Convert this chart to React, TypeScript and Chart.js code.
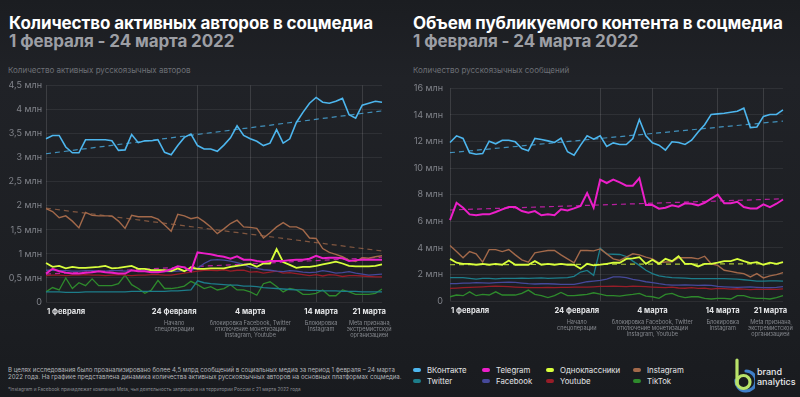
import React, { useEffect, useRef } from 'react';
import { Chart, registerables } from 'chart.js';

Chart.register(...registerables);

const FONT = 'Inter, "Noto Sans", sans-serif';

// ---------- data ----------
const DAYS = [
  '01.02', '02.02', '03.02', '04.02', '05.02', '06.02', '07.02', '08.02', '09.02', '10.02',
  '11.02', '12.02', '13.02', '14.02', '15.02', '16.02', '17.02', '18.02', '19.02', '20.02',
  '21.02', '22.02', '23.02', '24.02', '25.02', '26.02', '27.02', '28.02', '01.03', '02.03',
  '03.03', '04.03', '05.03', '06.03', '07.03', '08.03', '09.03', '10.03', '11.03', '12.03',
  '13.03', '14.03', '15.03', '16.03', '17.03', '18.03', '19.03', '20.03', '21.03', '22.03',
  '23.03', '24.03',
];

const MARKER_INDEX = [0, 23, 31, 41, 48];
const MARKER_LABELS = ['1 февраля', '24 февраля', '4 марта', '14 марта', '21 марта'];
const MARKER_NOTES = [
  [],
  ['Начало', 'спецоперации'],
  ['блокировка Facebook, Twitter', 'отключение монетизации', 'Instagram, Youtube'],
  ['Блокировка', 'Instagram'],
  ['Meta признана', 'экстремистской', 'организацией'],
];

const LEFT_TICKS = [0, 0.5, 1, 1.5, 2, 2.5, 3, 3.5, 4, 4.5];
const RIGHT_TICKS = [0, 2, 4, 6, 8, 10, 12, 14, 16];

// Authors (millions)
const A_VK = [3.39, 3.46, 3.46, 3.22, 3.10, 3.10, 3.37, 3.37, 3.37, 3.37, 3.35, 3.15, 3.16, 3.48, 3.31, 3.35, 3.35, 3.37, 3.11, 3.06, 3.25, 3.42, 3.49, 3.25, 3.18, 3.18, 3.13, 3.26, 3.41, 3.66, 3.46, 3.39, 3.34, 3.25, 3.30, 3.58, 3.30, 3.39, 3.73, 3.94, 4.13, 4.25, 4.15, 4.13, 4.17, 4.23, 3.89, 3.82, 4.09, 4.13, 4.17, 4.15];
const A_TELEGRAM = [0.59, 0.69, 0.64, 0.61, 0.59, 0.59, 0.61, 0.62, 0.64, 0.62, 0.61, 0.59, 0.59, 0.66, 0.64, 0.64, 0.62, 0.62, 0.64, 0.68, 0.74, 0.72, 0.64, 1.03, 1.01, 0.99, 0.96, 0.94, 0.90, 0.95, 0.88, 0.88, 0.85, 0.83, 0.85, 0.85, 0.85, 0.87, 0.88, 0.88, 0.90, 0.96, 0.91, 0.92, 0.92, 0.91, 0.85, 0.87, 0.88, 0.88, 0.88, 0.88];
const A_OK = [0.81, 0.73, 0.75, 0.70, 0.73, 0.71, 0.71, 0.72, 0.73, 0.75, 0.70, 0.71, 0.73, 0.75, 0.69, 0.69, 0.66, 0.66, 0.66, 0.64, 0.70, 0.64, 0.72, 0.69, 0.69, 0.70, 0.70, 0.70, 0.73, 0.75, 0.77, 0.79, 0.73, 0.80, 0.80, 1.10, 0.83, 0.77, 0.71, 0.73, 0.73, 0.75, 0.78, 0.81, 0.84, 0.80, 0.75, 0.74, 0.74, 0.74, 0.75, 0.78];
const A_INSTAGRAM = [1.94, 1.88, 1.75, 1.79, 1.68, 1.54, 1.86, 1.80, 1.79, 1.79, 1.79, 1.68, 1.53, 1.80, 1.77, 1.77, 1.77, 1.72, 1.60, 1.47, 1.82, 1.79, 1.73, 1.76, 1.67, 1.56, 1.42, 1.52, 1.63, 1.70, 1.56, 1.55, 1.53, 1.33, 1.44, 1.56, 1.65, 1.56, 1.56, 1.50, 1.33, 1.32, 1.11, 1.03, 0.99, 0.94, 0.87, 0.84, 0.92, 0.91, 0.94, 0.96];
const A_TWITTER = [0.21, 0.21, 0.21, 0.20, 0.20, 0.20, 0.21, 0.21, 0.21, 0.21, 0.21, 0.21, 0.21, 0.22, 0.22, 0.22, 0.22, 0.22, 0.22, 0.23, 0.23, 0.24, 0.25, 0.44, 0.40, 0.38, 0.37, 0.36, 0.35, 0.35, 0.33, 0.33, 0.32, 0.30, 0.29, 0.28, 0.27, 0.26, 0.25, 0.25, 0.24, 0.24, 0.23, 0.23, 0.23, 0.22, 0.22, 0.22, 0.21, 0.21, 0.21, 0.21];
const A_FACEBOOK = [0.66, 0.66, 0.65, 0.65, 0.64, 0.64, 0.65, 0.65, 0.64, 0.64, 0.65, 0.65, 0.64, 0.65, 0.65, 0.64, 0.64, 0.63, 0.63, 0.63, 0.64, 0.65, 0.66, 0.70, 0.80, 0.87, 0.88, 0.87, 0.85, 0.82, 0.78, 0.72, 0.70, 0.67, 0.66, 0.64, 0.63, 0.65, 0.64, 0.62, 0.61, 0.62, 0.65, 0.63, 0.60, 0.61, 0.63, 0.60, 0.58, 0.56, 0.57, 0.58];
const A_YOUTUBE = [0.55, 0.56, 0.56, 0.55, 0.56, 0.56, 0.57, 0.56, 0.56, 0.55, 0.56, 0.57, 0.56, 0.55, 0.56, 0.56, 0.57, 0.57, 0.56, 0.56, 0.58, 0.60, 0.62, 0.64, 0.66, 0.66, 0.65, 0.67, 0.64, 0.66, 0.66, 0.62, 0.63, 0.60, 0.62, 0.64, 0.60, 0.61, 0.59, 0.57, 0.55, 0.57, 0.54, 0.57, 0.56, 0.53, 0.55, 0.55, 0.54, 0.53, 0.52, 0.52];
const A_TIKTOK = [0.21, 0.30, 0.25, 0.50, 0.28, 0.40, 0.34, 0.48, 0.34, 0.34, 0.34, 0.38, 0.56, 0.36, 0.28, 0.18, 0.25, 0.45, 0.28, 0.28, 0.30, 0.33, 0.43, 0.36, 0.28, 0.32, 0.25, 0.28, 0.36, 0.25, 0.25, 0.21, 0.14, 0.38, 0.42, 0.32, 0.21, 0.28, 0.25, 0.16, 0.16, 0.18, 0.25, 0.13, 0.13, 0.25, 0.21, 0.16, 0.16, 0.16, 0.18, 0.27];

// Trend lines (first day, last day)
const A_TREND_VK = [3.08, 3.97];
const A_TREND_INSTAGRAM = [1.95, 1.06];
const A_TREND_TELEGRAM = [0.58, 0.93];

// Messages (millions)
const M_VK = [11.93, 12.43, 12.23, 11.16, 11.04, 11.10, 12.03, 11.83, 12.10, 12.10, 11.98, 11.48, 11.30, 12.23, 12.15, 12.05, 11.93, 12.25, 11.23, 10.98, 11.73, 12.43, 12.18, 12.43, 11.63, 11.90, 11.78, 11.78, 12.23, 13.66, 12.43, 11.90, 11.73, 11.36, 11.98, 11.93, 11.78, 12.10, 12.72, 13.27, 14.04, 14.08, 14.13, 14.20, 14.28, 14.51, 13.05, 13.10, 13.89, 14.04, 14.04, 14.38];
const M_TELEGRAM = [6.08, 7.39, 7.02, 6.52, 6.45, 6.52, 6.52, 6.70, 6.90, 7.07, 7.07, 6.77, 6.65, 6.77, 6.45, 6.52, 6.45, 6.90, 6.82, 6.97, 7.15, 8.13, 7.02, 9.13, 8.88, 9.13, 8.93, 8.68, 8.68, 9.25, 7.22, 7.22, 6.95, 7.02, 7.20, 7.10, 7.35, 7.32, 7.20, 7.39, 7.71, 8.01, 7.35, 7.35, 7.47, 7.07, 6.97, 6.97, 7.27, 7.07, 7.32, 7.64];
const M_OK = [3.17, 2.88, 2.80, 2.80, 2.73, 2.80, 2.73, 2.80, 2.73, 3.05, 2.73, 2.73, 2.73, 3.00, 2.73, 2.80, 2.73, 2.80, 2.73, 2.73, 2.43, 2.80, 2.68, 2.73, 2.80, 2.88, 2.88, 3.17, 3.20, 3.30, 2.80, 3.10, 2.80, 3.17, 3.00, 3.37, 2.80, 2.80, 2.60, 2.80, 2.80, 2.88, 3.00, 3.00, 3.17, 3.00, 2.85, 2.93, 2.73, 2.88, 2.80, 2.93];
const M_INSTAGRAM = [4.17, 3.72, 3.25, 3.72, 3.55, 2.93, 3.87, 3.87, 3.72, 3.87, 3.47, 3.10, 2.93, 3.62, 3.72, 3.80, 3.80, 3.47, 3.17, 2.88, 3.80, 3.80, 3.77, 3.92, 3.55, 3.17, 3.05, 3.30, 3.55, 3.47, 3.30, 3.17, 2.88, 2.93, 2.95, 3.25, 3.25, 3.25, 3.17, 3.37, 2.80, 2.68, 2.31, 2.23, 2.13, 2.06, 1.81, 2.06, 1.74, 1.89, 1.98, 2.13];
const M_TWITTER = [1.76, 1.76, 1.76, 1.70, 1.64, 1.70, 1.70, 1.66, 1.70, 1.70, 1.70, 1.72, 1.70, 1.72, 1.74, 1.70, 1.72, 1.74, 1.76, 1.86, 2.18, 2.30, 1.93, 3.97, 3.55, 3.52, 3.50, 3.35, 3.00, 2.68, 2.31, 2.06, 1.89, 1.81, 1.76, 1.74, 1.72, 1.69, 1.69, 1.69, 1.69, 1.69, 1.69, 1.66, 1.64, 1.60, 1.56, 1.49, 1.49, 1.51, 1.51, 1.49];
const M_FACEBOOK = [1.31, 1.31, 1.35, 1.35, 1.38, 1.36, 1.34, 1.38, 1.40, 1.42, 1.40, 1.35, 1.30, 1.28, 1.30, 1.30, 1.28, 1.25, 1.25, 1.25, 1.35, 1.45, 1.50, 1.55, 1.65, 1.81, 1.81, 1.76, 1.62, 1.55, 1.45, 1.39, 1.30, 1.24, 1.20, 1.20, 1.22, 1.20, 1.18, 1.20, 1.17, 1.10, 1.07, 1.05, 1.02, 1.04, 1.06, 1.03, 1.00, 1.00, 1.02, 1.08];
const M_YOUTUBE = [0.95, 0.97, 1.00, 1.02, 1.05, 1.07, 1.10, 1.12, 1.10, 1.08, 1.05, 1.03, 1.00, 1.00, 1.00, 1.02, 1.00, 1.02, 1.02, 1.04, 1.05, 1.05, 1.07, 1.10, 1.10, 1.12, 1.10, 1.08, 1.12, 1.10, 1.08, 1.05, 1.02, 1.00, 1.04, 0.98, 0.96, 1.00, 0.95, 0.97, 0.90, 0.95, 0.93, 0.90, 0.92, 0.90, 0.85, 0.90, 0.88, 0.90, 0.88, 0.92];
const M_TIKTOK = [0.32, 0.45, 0.40, 0.69, 0.40, 0.50, 0.45, 0.69, 0.45, 0.45, 0.45, 0.57, 0.82, 0.50, 0.40, 0.25, 0.40, 0.65, 0.40, 0.40, 0.45, 0.50, 0.62, 0.52, 0.40, 0.40, 0.37, 0.45, 0.50, 0.57, 0.37, 0.32, 0.20, 0.50, 0.57, 0.37, 0.25, 0.32, 0.32, 0.20, 0.15, 0.20, 0.20, 0.15, 0.40, 0.40, 0.25, 0.20, 0.20, 0.15, 0.25, 0.40];

const M_TREND_VK = [11.16, 13.54];
const M_TREND_TELEGRAM = [6.85, 7.69];
const M_TREND_OK = [2.73, 2.80];

const SERIES_NAMES = ['ВКонтакте', 'Telegram', 'Одноклассники', 'Instagram', 'Twitter', 'Facebook', 'Youtube', 'TikTok'];
const COLORS: Record<string, string> = {
  'ВКонтакте': '#4db6ee',
  'Telegram': '#ec1fc9',
  'Одноклассники': '#d9ff3c',
  'Instagram': '#a3694a',
  'Twitter': '#1d7d8a',
  'Facebook': '#46499a',
  'Youtube': '#981d28',
  'TikTok': '#2e8a2c',
};
const WIDTHS: Record<string, number> = {
  'ВКонтакте': 1.6, 'Telegram': 2, 'Одноклассники': 1.8, 'Instagram': 1.4,
  'Twitter': 1.3, 'Facebook': 1.3, 'Youtube': 1.3, 'TikTok': 1.3,
};
const LEGEND_ORDER = ['ВКонтакте', 'Telegram', 'Одноклассники', 'Instagram', 'Twitter', 'Facebook', 'Youtube', 'TikTok'];

// ---------- helpers ----------
function trendData(t: number[]) {
  return DAYS.map((_, i) => (i === 0 ? t[0] : i === DAYS.length - 1 ? t[1] : null));
}

function hexA(hex: string, a: number) {
  const n = parseInt(hex.slice(1), 16);
  return `rgba(${(n >> 16) & 255},${(n >> 8) & 255},${n & 255},${a})`;
}

const MARKER_ALIGN = ['left', 'right', 'center', 'center', 'center'];
const MARKER_DX = [1, -1, 0, 5, 7];

const markerPlugin = {
  id: 'markers',
  afterDraw(chart: any) {
    const { ctx, chartArea } = chart;
    const xs = chart.scales.x;
    ctx.save();
    ctx.textAlign = 'center';
    ctx.textBaseline = 'middle';
    MARKER_INDEX.forEach((idx, k) => {
      const gx = xs.getPixelForValue(idx);
      ctx.font = `700 7.6px ${FONT}`;
      const label = MARKER_LABELS[k];
      const w = ctx.measureText(label).width;
      let cx = gx + MARKER_DX[k];
      if (MARKER_ALIGN[k] === 'left') cx = gx + w / 2 + MARKER_DX[k];
      if (MARKER_ALIGN[k] === 'right') cx = gx - w / 2 + MARKER_DX[k];
      ctx.fillStyle = '#e4e5e7';
      ctx.fillText(label, cx, chartArea.bottom + 10);
      ctx.font = `400 5.6px ${FONT}`;
      ctx.fillStyle = '#85888e';
      MARKER_NOTES[k].forEach((t, j) => ctx.fillText(t, cx, chartArea.bottom + 21 + j * 6.3));
    });
    ctx.restore();
  },
};

function makeConfig(series: number[][], trends: [string, number[]][], ticks: number[], yWidth: number, tickPad: number, padRight: number, padTop: number, padBottom: number) {
  const datasets: any[] = [];
  SERIES_NAMES.forEach((name, i) => {
    datasets.push({
      label: name,
      data: series[i],
      borderColor: COLORS[name],
      backgroundColor: COLORS[name],
      borderWidth: WIDTHS[name],
      pointRadius: 0,
      tension: 0,
      fill: false,
      order: i + 1,
    });
  });
  trends.forEach(([name, t]) => {
    datasets.push({
      label: name + ' тренд',
      data: trendData(t),
      borderColor: hexA(COLORS[name], 0.75),
      borderWidth: 1.2,
      borderDash: [5, 4],
      pointRadius: 0,
      spanGaps: true,
      fill: false,
      order: 20,
    });
  });
  return {
    type: 'line',
    data: { labels: DAYS, datasets },
    options: {
      responsive: false,
      animation: false,
      events: [],
      layout: { padding: { left: 0, right: padRight, top: padTop, bottom: padBottom } },
      plugins: { legend: { display: false }, tooltip: { enabled: false }, title: { display: false } },
      scales: {
        x: {
          type: 'category',
          offset: false,
          ticks: { display: false },
          border: { display: false },
          grid: {
            drawTicks: false,
            lineWidth: 1,
            color: (c: any) => (MARKER_INDEX.includes(c.index) ? 'rgba(255,255,255,0.13)' : 'rgba(0,0,0,0)'),
          },
        },
        y: {
          min: ticks[0],
          max: ticks[ticks.length - 1],
          afterBuildTicks: (s: any) => { s.ticks = ticks.map((v) => ({ value: v })); },
          afterFit: (s: any) => { s.width = yWidth; },
          border: { display: false },
          grid: { color: 'rgba(255,255,255,0.07)', drawTicks: false },
          ticks: {
            padding: tickPad,
            color: '#80838a',
            font: { family: FONT, size: 9 },
            callback: (v: number) => (v === 0 ? '0' : String(v).replace('.', ',') + ' млн'),
          },
        },
      },
    },
    plugins: [markerPlugin],
  };
}

function LineChart({ config, style }: { config: any; style: React.CSSProperties }) {
  const ref = useRef<HTMLCanvasElement>(null);
  useEffect(() => {
    const chart = new Chart(ref.current as HTMLCanvasElement, config);
    return () => chart.destroy();
  }, []);
  return <canvas ref={ref} width={400} height={272} style={{ position: 'absolute', width: 400, height: 272, ...style }} />;
}

const titleStyle: React.CSSProperties = {
  position: 'absolute', fontFamily: FONT, fontWeight: 700, fontSize: 17, lineHeight: '17px',
  color: '#ffffff', whiteSpace: 'nowrap', letterSpacing: -0.1,
};
const subStyle: React.CSSProperties = { ...titleStyle, color: '#9c9ea4' };
const capStyle: React.CSSProperties = {
  position: 'absolute', fontFamily: FONT, fontSize: 8, lineHeight: '8px', color: '#6d7076', whiteSpace: 'nowrap',
};

function Logo() {
  return (
    <svg width="24" height="38" viewBox="0 0 24 38" style={{ position: 'absolute', left: 731, top: 358 }}>
      <path d="M 5 22 A 10 10 0 1 0 15 13" fill="none" stroke="#3f7fc8" strokeWidth="3.2" strokeLinecap="round" />
      <line x1="6" y1="2" x2="6" y2="26" stroke="#b9e36a" strokeWidth="3.2" strokeLinecap="round" />
      <circle cx="12.5" cy="24" r="6.5" fill="none" stroke="#b9e36a" strokeWidth="3.2" />
    </svg>
  );
}

export default function App() {
  const leftCfg = makeConfig(
    [A_VK, A_TELEGRAM, A_OK, A_INSTAGRAM, A_TWITTER, A_FACEBOOK, A_YOUTUBE, A_TIKTOK],
    [['ВКонтакте', A_TREND_VK], ['Instagram', A_TREND_INSTAGRAM], ['Telegram', A_TREND_TELEGRAM]],
    LEFT_TICKS, 46, 4, 18, 9, 46,
  );
  const rightCfg = makeConfig(
    [M_VK, M_TELEGRAM, M_OK, M_INSTAGRAM, M_TWITTER, M_FACEBOOK, M_YOUTUBE, M_TIKTOK],
    [['ВКонтакте', M_TREND_VK], ['Telegram', M_TREND_TELEGRAM], ['Одноклассники', M_TREND_OK]],
    RIGHT_TICKS, 50, 7, 17, 10, 47,
  );
  return (
    <div style={{
      position: 'fixed', left: 0, top: 0, width: 800, height: 397, overflow: 'hidden',
      background: 'linear-gradient(180deg, #1b1d21 0%, #202227 20%, #1d1f23 70%, #191b1f 100%)',
    }}>
      <div style={{ ...titleStyle, left: 9, top: 15 }}>Количество активных авторов в соцмедиа</div>
      <div style={{ ...subStyle, left: 9, top: 33 }}>1 февраля - 24 марта 2022</div>
      <div style={{ ...capStyle, left: 8, top: 66 }}>Количество активных русскоязычных авторов</div>

      <div style={{ ...titleStyle, left: 413, top: 15 }}>Объем публикуемого контента в соцмедиа</div>
      <div style={{ ...subStyle, left: 413, top: 33 }}>1 февраля - 24 марта 2022</div>
      <div style={{ ...capStyle, left: 413, top: 66 }}>Количество русскоязычных сообщений</div>

      <LineChart config={leftCfg} style={{ left: 0, top: 76 }} />
      <LineChart config={rightCfg} style={{ left: 400, top: 76 }} />

      <div style={{ position: 'absolute', left: 8, top: 366, fontFamily: FONT, fontSize: 6.1, lineHeight: '7px', color: '#b4b6ba', whiteSpace: 'nowrap' }}>
        В целях исследования было проанализировано более 4,5 млрд сообщений в социальных медиа за период 1 февраля – 24 марта
        <br />
        2022 года. На графике представлена динамика количества активных русскоязычных авторов на основных платформах соцмедиа.
      </div>
      <div style={{ position: 'absolute', left: 8, top: 386, fontFamily: FONT, fontSize: 4.7, lineHeight: '6px', color: '#8e9095', whiteSpace: 'nowrap' }}>
        *Instagram и Facebook принадлежат компании Meta, чья деятельность запрещена на территории России с 21 марта 2022 года
      </div>

      {LEGEND_ORDER.map((name, i) => {
        const col = i % 4;
        const row = Math.floor(i / 4);
        const lefts = [413, 482, 546, 633];
        return (
          <div key={name} style={{ position: 'absolute', left: lefts[col], top: 366 + row * 11, height: 8, display: 'flex', alignItems: 'center', fontFamily: FONT, fontSize: 7.8, color: '#e3e4e6', whiteSpace: 'nowrap' }}>
            <span style={{ display: 'inline-block', width: 8, height: 4.5, borderRadius: 2, background: COLORS[name], marginRight: 6 }} />
            {name}
          </div>
        );
      })}

      <Logo />
      <div style={{ position: 'absolute', left: 757, top: 367, fontFamily: FONT, fontSize: 9, lineHeight: '10px', color: '#e8e9eb', fontWeight: 500 }}>
        brand<br />analytics
      </div>
    </div>
  );
}
